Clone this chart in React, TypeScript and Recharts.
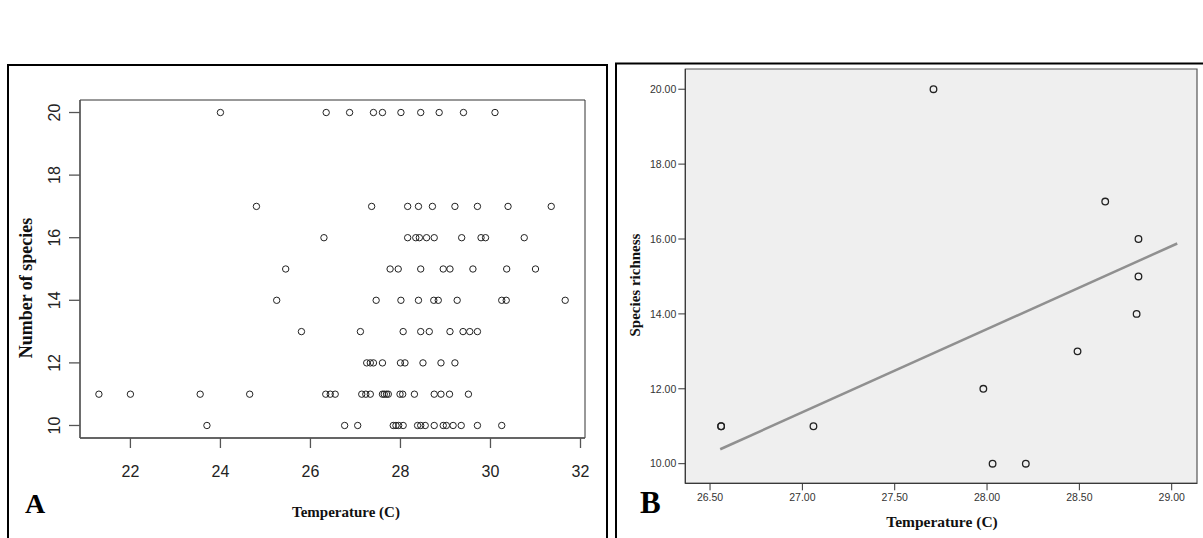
import {
  ScatterChart,
  Scatter,
  XAxis,
  YAxis,
  CartesianGrid,
  ReferenceArea,
  ReferenceLine,
} from 'recharts';

// Panel A: temperatures, grouped by number of species
const speciesLevels = [10, 11, 12, 13, 14, 15, 16, 17, 20];
const tempsAt10 = [23.7, 26.76, 27.05, 27.84, 27.9, 27.96, 28.06, 28.38, 28.45, 28.55, 28.75, 28.95, 29.02, 29.17, 29.35, 29.71, 30.25];
const tempsAt11 = [21.3, 22.0, 23.55, 24.65, 26.34, 26.44, 26.55, 27.14, 27.23, 27.33, 27.6, 27.64, 27.69, 27.73, 27.99, 28.05, 28.31, 28.75, 28.9, 29.09, 29.51];
const tempsAt12 = [27.25, 27.33, 27.4, 27.6, 28.0, 28.1, 28.5, 28.9, 29.21];
const tempsAt13 = [25.8, 27.11, 28.06, 28.45, 28.64, 29.1, 29.39, 29.54, 29.71];
const tempsAt14 = [25.25, 27.46, 28.01, 28.4, 28.74, 28.84, 29.26, 30.25, 30.35, 31.66];
const tempsAt15 = [25.45, 27.77, 27.95, 28.45, 28.95, 29.1, 29.61, 30.36, 31.0];
const tempsAt16 = [26.3, 28.16, 28.34, 28.42, 28.58, 28.75, 29.36, 29.79, 29.89, 30.75];
const tempsAt17 = [24.8, 27.36, 28.16, 28.4, 28.71, 29.21, 29.71, 30.39, 31.35];
const tempsAt20 = [24.0, 26.35, 26.87, 27.4, 27.6, 28.01, 28.45, 28.86, 29.4, 30.1];
const tempRows = [tempsAt10, tempsAt11, tempsAt12, tempsAt13, tempsAt14, tempsAt15, tempsAt16, tempsAt17, tempsAt20];
const ticksXA = [22, 24, 26, 28, 30, 32];
const ticksYA = [10, 12, 14, 16, 18, 20];

// Panel B: site means
const tempB = [26.56, 26.56, 27.06, 27.71, 28.64, 28.82, 28.82, 28.81, 28.49, 27.98, 28.03, 28.21];
const richnessB = [11, 11, 11, 20, 17, 16, 15, 14, 13, 12, 10, 10];
const fitTemp = [26.555, 29.03];
const fitRichness = [10.385, 15.88];
const ticksXB = [26.5, 27.0, 27.5, 28.0, 28.5, 29.0];
const ticksYB = [10, 12, 14, 16, 18, 20];

const dataA = tempRows.flatMap((row, i) => row.map((t) => ({ x: t, y: speciesLevels[i] })));
const dataB = tempB.map((t, i) => ({ x: t, y: richnessB[i] }));

const domXA: [number, number] = [20.88, 32.1];
const domYA: [number, number] = [9.6, 20.4];
const domXB: [number, number] = [26.366, 29.137];
const domYB: [number, number] = [9.476, 20.54];

const SANS = '"Liberation Sans", Arial, sans-serif';
const SERIF = '"Liberation Serif", "Times New Roman", serif';

function OpenCircle(props: any) {
  const { cx, cy } = props;
  return <circle cx={cx} cy={cy} r={3.2} fill="none" stroke="#222" strokeWidth={1} />;
}

function OpenCircleB(props: any) {
  const { cx, cy } = props;
  return <circle cx={cx} cy={cy} r={3.3} fill="none" stroke="#222" strokeWidth={1.3} />;
}

function RotatedTick(props: any) {
  const { x, y, payload } = props;
  return (
    <text
      x={x}
      y={y}
      transform={`rotate(-90 ${x} ${y})`}
      textAnchor="middle"
      fontSize={16}
      fontFamily={SANS}
      fill="#222"
    >
      {payload.value}
    </text>
  );
}

export default function App() {
  return (
    <div style={{ position: 'absolute', left: 0, top: 0, width: 1203, height: 538, background: '#fff', overflow: 'hidden' }}>
      <div style={{ position: 'absolute', left: 0, top: 0 }}>
        <ScatterChart width={600} height={538} margin={{ top: 100, right: 15, bottom: 60, left: 40 }}>
          <XAxis
            type="number"
            dataKey="x"
            domain={domXA}
            ticks={ticksXA}
            allowDataOverflow
            height={40}
            tickSize={10}
            tickMargin={18}
            stroke="#555"
            strokeWidth={1.3}
            tick={{ fontSize: 16, fontFamily: SANS, fill: '#222' }}
          />
          <YAxis
            type="number"
            dataKey="y"
            domain={domYA}
            ticks={ticksYA}
            allowDataOverflow
            width={40}
            tickSize={11}
            tickMargin={9}
            stroke="#555"
            strokeWidth={1.3}
            tick={<RotatedTick />}
          />
          <ReferenceArea x1={domXA[0]} x2={domXA[1]} y1={domYA[0]} y2={domYA[1]} fill="none" stroke="#333" strokeWidth={1} />
          <Scatter data={dataA} shape={<OpenCircle />} isAnimationActive={false} />
        </ScatterChart>
      </div>

      <div style={{ position: 'absolute', left: 600, top: 0 }}>
        <ScatterChart width={603} height={538} margin={{ top: 69, right: 6, bottom: 24.7, left: 25.3 }}>
          <CartesianGrid horizontal={false} vertical={false} fill="#efefef" fillOpacity={1} stroke="none" />
          <XAxis
            type="number"
            dataKey="x"
            domain={domXB}
            ticks={ticksXB}
            allowDataOverflow
            height={30}
            tickSize={7}
            tickMargin={3}
            stroke="#333"
            tickFormatter={(v: number) => v.toFixed(2)}
            tick={{ fontSize: 10.5, fontFamily: SANS, fill: '#333' }}
          />
          <YAxis
            type="number"
            dataKey="y"
            domain={domYB}
            ticks={ticksYB}
            allowDataOverflow
            width={60}
            tickSize={7}
            tickMargin={2}
            stroke="#333"
            tickFormatter={(v: number) => v.toFixed(2)}
            tick={{ fontSize: 10.5, fontFamily: SANS, fill: '#333' }}
          />
          <ReferenceArea x1={domXB[0]} x2={domXB[1]} y1={domYB[0]} y2={domYB[1]} fill="none" stroke="#555" strokeWidth={1.2} />
          <ReferenceLine
            segment={[
              { x: fitTemp[0], y: fitRichness[0] },
              { x: fitTemp[1], y: fitRichness[1] },
            ]}
            stroke="#909090"
            strokeWidth={2.5}
          />
          <Scatter data={dataB} shape={<OpenCircleB />} isAnimationActive={false} />
        </ScatterChart>
      </div>

      <svg width={1203} height={538} style={{ position: 'absolute', left: 0, top: 0, pointerEvents: 'none' }}>
        <rect x={8} y={65} width={599} height={500} fill="none" stroke="#000" strokeWidth={2} />
        <rect x={616} y={63.5} width={600} height={500} fill="none" stroke="#000" strokeWidth={2} />

        <text
          x={32}
          y={288}
          transform="rotate(-90 32 288)"
          textAnchor="middle"
          fontFamily={SERIF}
          fontWeight="bold"
          fontSize={18}
          fill="#111"
        >
          Number of species
        </text>
        <text x={346} y={517} textAnchor="middle" fontFamily={SERIF} fontWeight="bold" fontSize={15} fill="#111">
          Temperature (C)
        </text>
        <text x={25} y={513} fontFamily={SERIF} fontWeight="bold" fontSize={28} fill="#000">
          A
        </text>

        <text
          x={640}
          y={285}
          transform="rotate(-90 640 285)"
          textAnchor="middle"
          fontFamily={SERIF}
          fontWeight="bold"
          fontSize={15}
          fill="#111"
        >
          Species richness
        </text>
        <text x={942} y={527} textAnchor="middle" fontFamily={SERIF} fontWeight="bold" fontSize={15.5} fill="#111">
          Temperature (C)
        </text>
        <text x={640} y={513} fontFamily={SERIF} fontWeight="bold" fontSize={31} fill="#000">
          B
        </text>
      </svg>
    </div>
  );
}
